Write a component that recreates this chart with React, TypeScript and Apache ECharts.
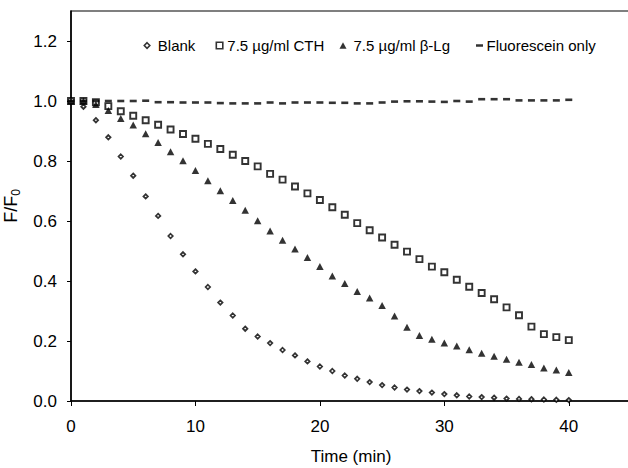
import React, { useEffect, useRef } from "react";
import * as echarts from "echarts";

// Sampling times (min)
const minutes = [
  0, 1, 2, 3, 4, 5, 6, 7, 8, 9, 10, 11, 12, 13, 14, 15, 16, 17, 18, 19, 20,
  21, 22, 23, 24, 25, 26, 27, 28, 29, 30, 31, 32, 33, 34, 35, 36, 37, 38, 39, 40,
];

// Relative fluorescence F/F0 for each condition
const blank = [
  1.0, 0.981, 0.936, 0.879, 0.815, 0.751, 0.682, 0.617, 0.55, 0.489, 0.432,
  0.38, 0.328, 0.285, 0.241, 0.215, 0.193, 0.17, 0.152, 0.132, 0.115, 0.1,
  0.085, 0.074, 0.063, 0.053, 0.045, 0.038, 0.033, 0.028, 0.023, 0.019, 0.015,
  0.013, 0.011, 0.008, 0.007, 0.006, 0.005, 0.004, 0.003,
];
const cth = [
  1.0, 1.0, 0.996, 0.983, 0.966, 0.951, 0.936, 0.921, 0.905, 0.89, 0.874,
  0.857, 0.84, 0.821, 0.8, 0.782, 0.757, 0.738, 0.715, 0.692, 0.67, 0.646,
  0.621, 0.593, 0.569, 0.545, 0.521, 0.498, 0.473, 0.448, 0.429, 0.404, 0.381,
  0.36, 0.339, 0.312, 0.286, 0.248, 0.223, 0.213, 0.203,
];
const betaLg = [
  1.0, 1.0, 0.988, 0.968, 0.942, 0.92, 0.891, 0.862, 0.831, 0.801, 0.768,
  0.734, 0.701, 0.668, 0.636, 0.601, 0.567, 0.536, 0.507, 0.478, 0.448, 0.417,
  0.392, 0.365, 0.343, 0.318, 0.283, 0.246, 0.218, 0.206, 0.193, 0.183, 0.171,
  0.159, 0.149, 0.139, 0.129, 0.122, 0.11, 0.103, 0.095,
];
const fluoresceinOnly = [
  1.0, 1.0, 1.0, 1.0, 1.0, 1.0, 1.001, 0.996, 0.996, 0.995, 0.995, 0.995,
  0.993, 0.992, 0.992, 0.992, 0.995, 0.992, 0.995, 0.995, 0.995, 0.994, 0.994,
  0.992, 0.992, 0.995, 0.998, 0.999, 0.999, 0.998, 0.997, 1.0, 0.998, 1.006,
  1.006, 1.006, 1.002, 1.002, 1.002, 1.002, 1.004,
];

const seriesNames = [
  "Blank",
  "7.5 µg/ml CTH",
  "7.5 µg/ml β-Lg",
  "Fluorescein only",
];

const xTicks = [0, 10, 20, 30, 40];
const yTicks = [0, 0.2, 0.4, 0.6, 0.8, 1.0, 1.2];

const FONT = "'Liberation Sans', Arial, Helvetica, sans-serif";

const pairs = (ys: number[]) => minutes.map((t, i) => [t, ys[i]]);

export default function App() {
  const ref = useRef<HTMLDivElement>(null);

  useEffect(() => {
    if (!ref.current) return;
    const chart = echarts.init(ref.current, undefined, { renderer: "svg" });

    const legendText = { color: "#000", fontSize: 15, fontFamily: FONT };
    const legendBase = {
      orient: "horizontal",
      top: 38,
      padding: 0,
      selectedMode: false,
    };

    chart.setOption({
      animation: false,
      backgroundColor: "#fff",
      grid: {
        left: 71,
        top: 11,
        width: 560,
        height: 390,
        show: true,
        borderColor: "#000",
        borderWidth: 1.2,
        outerBoundsMode: "none",
      },
      legend: [
        {
          ...legendBase,
          data: [seriesNames[0]],
          left: 143.5,
          itemWidth: 5.5,
          itemHeight: 5.5,
          itemStyle: { color: "#fff", borderColor: "#000", borderWidth: 1.6 },
          textStyle: { ...legendText, padding: [0, 0, 0, 3] },
        },
        {
          ...legendBase,
          data: [seriesNames[1]],
          left: 215.5,
          itemWidth: 6.5,
          itemHeight: 6.5,
          itemStyle: { color: "#fff", borderColor: "#000", borderWidth: 1.6 },
          textStyle: { ...legendText, padding: [0, 0, 0, -0.5] },
        },
        {
          ...legendBase,
          data: [seriesNames[2]],
          left: 339.5,
          itemWidth: 7,
          itemHeight: 6.5,
          itemStyle: { color: "#000", borderWidth: 0 },
          textStyle: { ...legendText, padding: [0, 0, 0, 2] },
        },
        {
          ...legendBase,
          data: [seriesNames[3]],
          left: 476,
          itemWidth: 7,
          itemHeight: 2.5,
          itemStyle: { color: "#000", borderWidth: 0 },
          textStyle: { ...legendText, padding: [0, 0, 0, -1.5] },
        },
      ],
      xAxis: {
        type: "value",
        min: 0,
        max: 45,
        interval: 10,
        name: "Time (min)",
        nameLocation: "middle",
        nameGap: 47,
        nameTextStyle: { color: "#000", fontSize: 17, fontFamily: FONT },
        axisLine: { onZero: false, lineStyle: { color: "#000", width: 1.5 } },
        axisTick: {
          length: 5,
          customValues: xTicks,
          lineStyle: { color: "#000", width: 1 },
        },
        axisLabel: {
          customValues: xTicks,
          color: "#000",
          fontSize: 17,
          fontFamily: FONT,
          margin: 17,
          formatter: (v: number) => (v > 40 ? "" : String(v)),
        },
        splitLine: { show: false },
      },
      yAxis: {
        type: "value",
        min: 0,
        max: 1.3,
        interval: 0.2,
        name: "{a|F/F}{b|0}",
        nameLocation: "middle",
        nameGap: 44,
        nameTextStyle: {
          color: "#000",
          fontFamily: FONT,
          rich: {
            a: { fontSize: 18, lineHeight: 22, color: "#000", fontFamily: FONT },
            b: {
              fontSize: 12,
              lineHeight: 12,
              verticalAlign: "bottom",
              color: "#000",
              fontFamily: FONT,
            },
          },
        },
        axisLine: { onZero: false, lineStyle: { color: "#000", width: 1.5 } },
        axisTick: {
          length: 4,
          customValues: yTicks,
          lineStyle: { color: "#000", width: 1 },
        },
        axisLabel: {
          customValues: yTicks,
          color: "#000",
          fontSize: 17,
          fontFamily: FONT,
          margin: 14,
          formatter: (v: number) => (v > 1.25 ? "" : v.toFixed(1)),
        },
        splitLine: { show: false },
      },
      series: [
        {
          name: seriesNames[0],
          type: "scatter",
          data: pairs(blank),
          symbol: "diamond",
          symbolSize: 4.5,
          itemStyle: { color: "#fff", borderColor: "#000", borderWidth: 1.7 },
        },
        {
          name: seriesNames[1],
          type: "scatter",
          data: pairs(cth),
          symbol: "rect",
          symbolSize: 6,
          itemStyle: { color: "#fff", borderColor: "#000", borderWidth: 1.9 },
        },
        {
          name: seriesNames[2],
          type: "scatter",
          data: pairs(betaLg),
          symbol: "triangle",
          symbolSize: [7.5, 7],
          itemStyle: { color: "#000" },
        },
        {
          name: seriesNames[3],
          type: "scatter",
          data: pairs(fluoresceinOnly),
          symbol: "rect",
          symbolSize: [7, 2.6],
          itemStyle: { color: "#000" },
        },
      ],
    });

    return () => chart.dispose();
  }, []);

  return (
    <div
      ref={ref}
      style={{ position: "absolute", left: 0, top: 0, width: 628, height: 468 }}
    />
  );
}
